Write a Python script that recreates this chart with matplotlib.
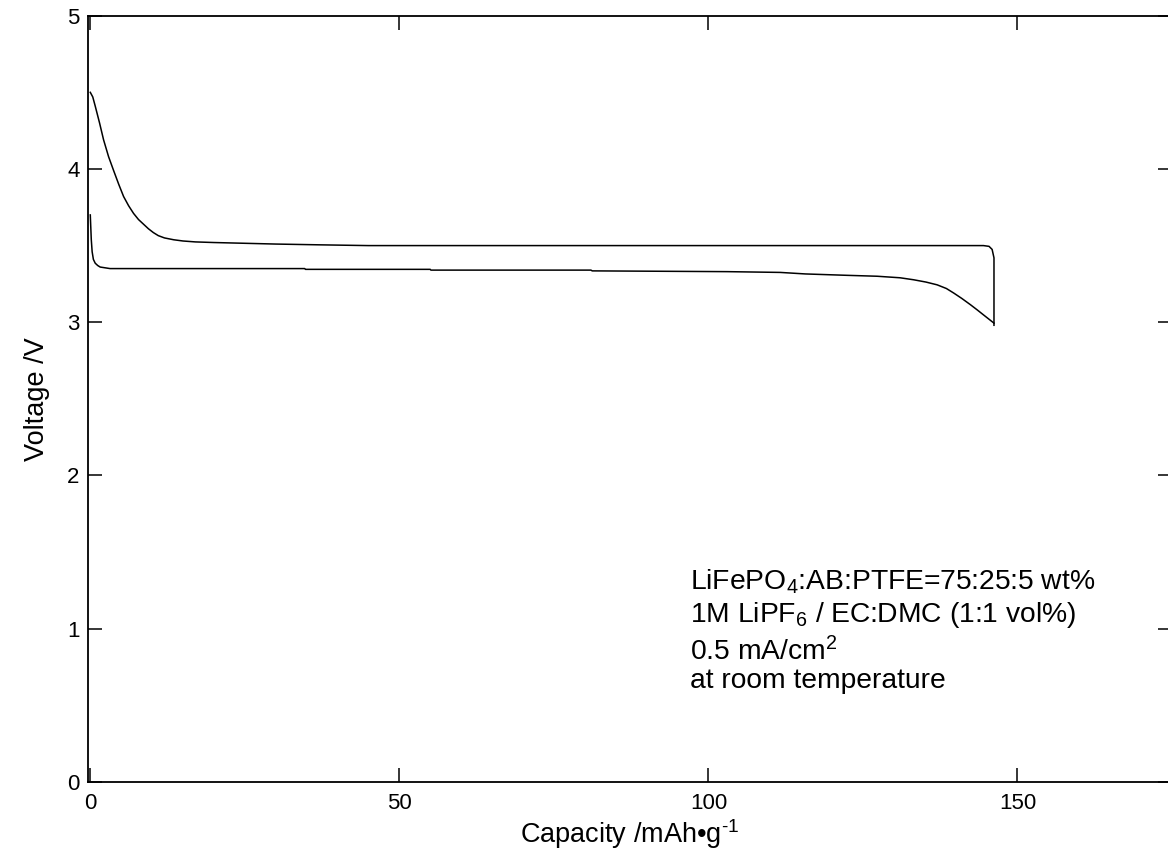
import matplotlib
matplotlib.use("Agg")
import matplotlib.pyplot as plt

plt.rcParams["font.family"] = ["Liberation Sans", "DejaVu Sans"]
plt.rcParams["mathtext.fontset"] = "custom"
plt.rcParams["mathtext.rm"] = "Liberation Sans"
plt.rcParams["mathtext.it"] = "Liberation Sans"

# charge curve (upper)
charge_cap = [0, 0.4, 0.8, 1.5, 2.15, 2.96, 3.77, 4.6, 5.39, 6.2, 7.0, 7.8,
              8.6, 9.4, 10.2, 11.0, 12.0, 13.5, 15.0, 17.0, 20, 25, 30, 37,
              45, 58, 70, 85, 100, 115, 130, 140, 144.5, 145.4, 145.9, 146.2,
              146.2]
charge_v = [4.50, 4.47, 4.41, 4.30, 4.19, 4.08, 3.99, 3.90, 3.82, 3.76, 3.71,
            3.67, 3.64, 3.61, 3.585, 3.565, 3.55, 3.538, 3.53, 3.524, 3.52,
            3.515, 3.51, 3.505, 3.50, 3.50, 3.50, 3.50, 3.50, 3.50, 3.50,
            3.50, 3.50, 3.495, 3.475, 3.42, 2.98]

# discharge curve (lower)
dis_cap = [0, 0.08, 0.16, 0.3, 0.5, 0.8, 1.2, 1.6, 2.4, 3.2, 10, 20, 34.7,
           34.8, 55, 55.1, 81, 81.2, 103, 111.6, 115.7, 122.4, 127.3, 131.0,
           133.2, 135.2, 137.0, 138.5, 139.7, 141.0, 142.4, 143.5, 144.5,
           146.2]
dis_v = [3.70, 3.62, 3.54, 3.46, 3.41, 3.385, 3.37, 3.36, 3.355, 3.35, 3.35,
         3.35, 3.35, 3.345, 3.345, 3.34, 3.34, 3.335, 3.33, 3.325, 3.315,
         3.306, 3.30, 3.29, 3.277, 3.262, 3.244, 3.22, 3.19, 3.155, 3.114,
         3.08, 3.048, 2.994]

x_ticks = [0, 50, 100, 150]
y_ticks = [0, 1, 2, 3, 4, 5]

W, H = 1168, 857
fig = plt.figure(figsize=(W / 100, H / 100), dpi=100)
ax = fig.add_axes([88 / W, (H - 782) / H, (1172 - 88) / W, (782 - 15.7) / H])

ax.plot(charge_cap, charge_v, color="black", lw=1.1)
ax.plot(dis_cap, dis_v, color="black", lw=1.1)

ax.set_xlim(-0.37, 175)
ax.set_ylim(0, 5)
ax.set_xticks(x_ticks)
ax.set_yticks(y_ticks)
ax.tick_params(direction="in", length=10, width=1.1, top=True, right=True,
               labelsize=16)
ax.tick_params(axis="x", pad=8)
ax.tick_params(axis="y", pad=6)
for s in ax.spines.values():
    s.set_linewidth(1.3)

ax.set_xlabel(r"Capacity /mAh•g$^{\text{-1}}$", fontsize=19.5, labelpad=2)
ax.set_ylabel("Voltage /V", fontsize=19.5, labelpad=12)

notes = [
    ("LiFePO$_4$:AB:PTFE=75:25:5 wt%", 590),
    ("1M LiPF$_6$ / EC:DMC (1:1 vol%)", 622),
    ("0.5 mA/cm$^2$", 660),
    ("at room temperature", 688),
]
for txt, base in notes:
    fig.text(690 / W, 1 - base / H, txt, fontsize=20.3, va="baseline",
             ha="left")

fig.savefig("out.png", dpi=100)
